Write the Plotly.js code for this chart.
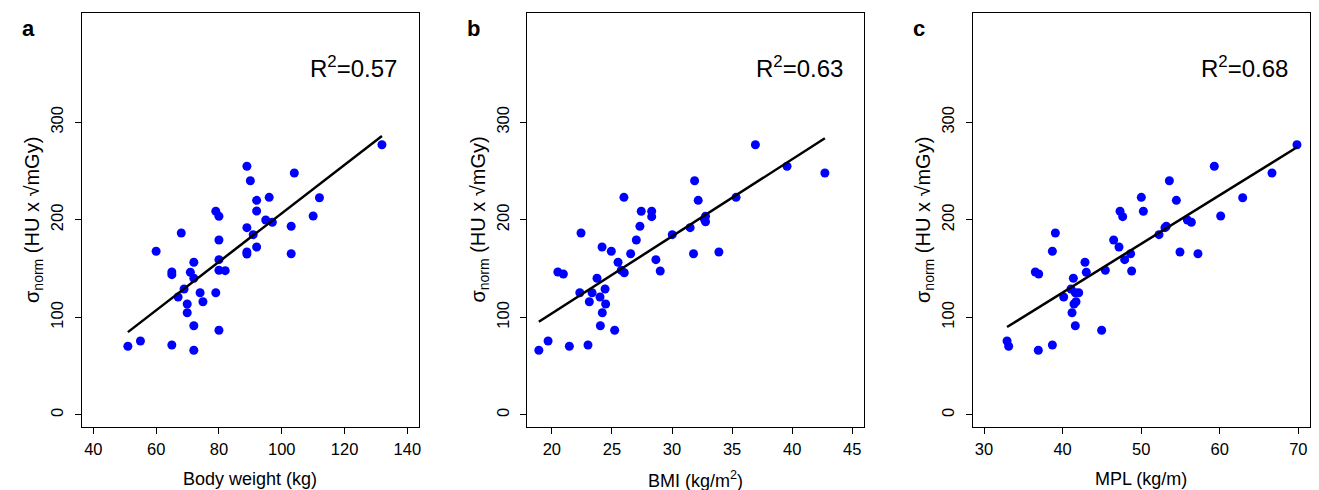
<!DOCTYPE html>
<html>
<head>
<meta charset="utf-8">
<script src="https://cdn.plot.ly/plotly-3.0.1.min.js"></script>
<style>html,body{margin:0;padding:0;background:#fff;}#chart{width:1319px;height:490px;}</style>
</head>
<body>
<div id="chart"></div>
<script>
// ---- Data ----
const bodyWeight = [51.0, 55.0, 65.0, 72.0, 80.0, 72.0, 69.9, 69.9, 67.0, 68.9, 74.0, 74.9, 79.0, 72.0, 70.9, 65.0, 65.0, 72.0, 60.0, 68.0, 80.0, 80.0, 82.0, 80.0, 79.0, 80.0, 88.9, 90.0, 92.0, 92.0, 96.0, 88.9, 90.9, 94.9, 97.0, 92.0, 88.9, 88.9, 104.0, 103.0, 103.0, 112.0, 110.0, 131.9];
const sigmaA = [70.4, 75.8, 71.7, 66.3, 86.8, 91.5, 104.8, 113.8, 120.9, 129.1, 125.3, 116.1, 125.3, 140.1, 146.3, 146.6, 143.8, 156.5, 167.8, 186.5, 159.2, 148.3, 147.9, 179.4, 208.8, 203.7, 254.9, 240.1, 220.0, 209.1, 223.1, 192.0, 184.8, 199.9, 197.5, 172.2, 167.1, 165.0, 248.0, 193.4, 165.3, 222.7, 204.0, 277.0];

const bmi = [18.92, 19.69, 21.46, 23.01, 25.23, 24.04, 24.20, 24.48, 23.12, 24.01, 22.33, 23.35, 24.43, 23.76, 20.50, 20.96, 25.78, 26.03, 25.51, 24.95, 24.18, 26.56, 27.03, 22.43, 27.33, 26.0, 27.44, 28.31, 28.31, 28.66, 29.02, 30.02, 31.51, 31.79, 31.88, 32.18, 32.79, 32.79, 33.90, 35.33, 36.94, 39.57, 42.72, 32.7];
const sigmaB = [66.3, 75.8, 70.4, 71.7, 86.8, 91.5, 104.8, 113.8, 116.1, 120.9, 125.3, 125.3, 129.1, 140.1, 146.6, 144.5, 148.3, 145.8, 156.5, 167.8, 172.2, 165.3, 179.4, 186.5, 193.4, 223.1, 208.8, 208.8, 203.3, 159.2, 147.6, 184.8, 192.0, 165.3, 240.1, 220.0, 203.7, 198.1, 167.1, 223.1, 277.0, 254.9, 248.0, 200.5];

const mpl = [32.93, 33.14, 36.91, 38.70, 44.97, 41.62, 41.20, 41.45, 41.71, 40.14, 41.07, 41.62, 42.05, 41.37, 36.53, 36.96, 43.02, 42.85, 45.44, 48.79, 38.70, 47.90, 48.66, 47.18, 46.50, 39.08, 52.27, 53.03, 53.2, 47.31, 47.65, 50.28, 50.02, 53.59, 54.48, 55.88, 56.39, 54.94, 57.23, 60.12, 62.92, 59.31, 66.65, 69.83];
const sigmaC = [75.8, 70.4, 66.3, 71.7, 86.8, 91.5, 104.8, 113.8, 116.1, 120.9, 129.1, 125.3, 125.3, 140.1, 146.6, 144.5, 146.3, 156.5, 148.3, 147.6, 167.8, 159.2, 165.3, 172.2, 179.4, 186.5, 184.8, 192.0, 193.4, 208.8, 203.3, 208.8, 223.1, 240.1, 220.0, 199.9, 197.5, 167.1, 165.3, 204.0, 222.7, 254.9, 248.0, 277.0];

// regression lines (slope, intercept)
const fitSlope = [2.485, 7.90, 4.99];
const fitIntercept = [-41.8, -53.9, -74.1];
const r2Labels = ["0.57", "0.63", "0.68"];
const panelLetters = ["a", "b", "c"];
const xTitles = ["Body weight (kg)", "BMI (kg/m<sup>2</sup>)", "MPL (kg/m)"];
const xTickVals = [[40, 60, 80, 100, 120, 140], [20, 25, 30, 35, 40, 45], [30, 40, 50, 60, 70]];
const yTickVals = [0, 100, 200, 300];

// ---- Layout geometry ----
const W = 1319, H = 490;
const xDomains = [[81.7, 419], [527.3, 864.3], [972.7, 1309.7]];
const xRanges = [[36.3, 143.7], [17.96, 46.0], [28.56, 71.45]];
const yRange = [-12, 411.7];
const plotTop = 13.3, plotBottom = 426.7;
const FONT = "Liberation Sans, Arial, Helvetica, sans-serif";

const xs = [bodyWeight, bmi, mpl];
const ys = [sigmaA, sigmaB, sigmaC];

const traces = [];
const layout = {
  width: W, height: H,
  margin: {l: 0, r: 0, t: 0, b: 0},
  paper_bgcolor: "#fff", plot_bgcolor: "#fff",
  showlegend: false,
  font: {family: FONT, color: "#000", size: 16},
  annotations: []
};

for (let i = 0; i < 3; i++) {
  const sfx = i === 0 ? "" : String(i + 1);
  const xa = "x" + sfx, ya = "y" + sfx;
  traces.push({
    type: "scatter", mode: "markers", x: xs[i], y: ys[i], xaxis: xa, yaxis: ya,
    marker: {color: "#0000FF", size: 9, line: {width: 0}}, hoverinfo: "x+y"
  });
  const xmin = Math.min(...xs[i]), xmax = Math.max(...xs[i]);
  traces.push({
    type: "scatter", mode: "lines", x: [xmin, xmax],
    y: [fitIntercept[i] + fitSlope[i] * xmin, fitIntercept[i] + fitSlope[i] * xmax],
    xaxis: xa, yaxis: ya, line: {color: "#000", width: 2.5}, hoverinfo: "skip"
  });
  const axCommon = {
    showline: true, mirror: true, linecolor: "#000", linewidth: 1,
    ticks: "outside", ticklen: 6, tickwidth: 1, tickcolor: "#000",
    showgrid: false, zeroline: false, tickfont: {family: FONT, size: 16.5, color: "#000"}
  };
  layout["xaxis" + sfx] = Object.assign({}, axCommon, {
    domain: [xDomains[i][0] / W, xDomains[i][1] / W], range: xRanges[i],
    anchor: ya, tickmode: "array", tickvals: xTickVals[i], ticklabelstandoff: 1
  });
  layout["yaxis" + sfx] = Object.assign({}, axCommon, {
    domain: [(H - plotBottom) / H, (H - plotTop) / H], range: yRange,
    anchor: xa, tickmode: "array", tickvals: yTickVals, tickangle: -90, ticklabelstandoff: 5
  });
  const off = xDomains[i][0] - xDomains[0][0];
  // panel letter
  layout.annotations.push({
    xref: "paper", yref: "paper", x: (28 + off) / W, y: (H - 28) / H,
    xanchor: "center", yanchor: "middle", showarrow: false,
    text: "<b>" + panelLetters[i] + "</b>", font: {family: FONT, size: 22, color: "#000"}
  });
  // R^2
  layout.annotations.push({
    xref: "paper", yref: "paper", x: (399 + off) / W, y: (H - 67) / H,
    xanchor: "right", yanchor: "middle", showarrow: false,
    text: "R<sup>2</sup>=" + r2Labels[i], font: {family: FONT, size: 24, color: "#000"}
  });
  // x title
  layout.annotations.push({
    xref: "paper", yref: "paper", x: (250 + off) / W, y: (H - 479) / H,
    xanchor: "center", yanchor: "middle", showarrow: false,
    text: xTitles[i], font: {family: FONT, size: 18, color: "#000"}
  });
  // y title
  layout.annotations.push({
    xref: "paper", yref: "paper", x: (33 + off) / W, y: (H - 220) / H,
    xanchor: "center", yanchor: "middle", showarrow: false, textangle: -90,
    text: "σ<sub>norm</sub> (HU x √mGy)", font: {family: FONT, size: 20, color: "#000"}
  });
}

Plotly.newPlot("chart", traces, layout, {staticPlot: true, displayModeBar: false});
</script>
</body>
</html>
